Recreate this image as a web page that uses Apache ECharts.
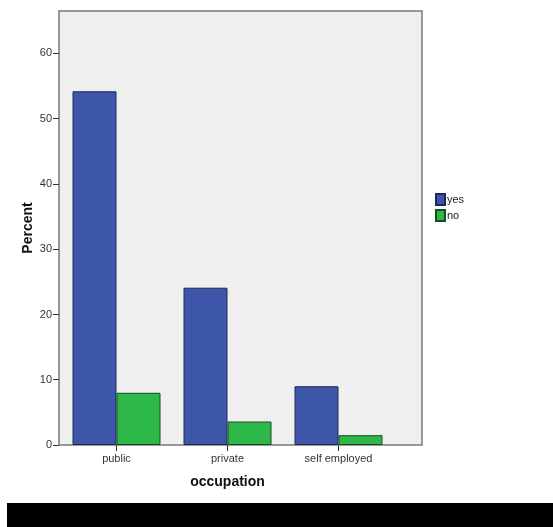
<!DOCTYPE html>
<html>
<head>
<meta charset="utf-8">
<script src="https://cdn.jsdelivr.net/npm/echarts@6/dist/echarts.min.js"></script>
<style>
html,body{margin:0;padding:0;background:#fff;}
#chart{width:553px;height:527px;}
</style>
</head>
<body>
<div id="chart"></div>
<script>
var categories = ['public', 'private', 'self employed'];
var yesValues = [54.2, 24.1, 9.0];
var noValues = [8.0, 3.6, 1.5];
var yTicks = [0, 10, 20, 30, 40, 50, 60];

var chart = echarts.init(document.getElementById('chart'), null, {renderer: 'canvas'});
var font = 'Liberation Sans, Arial, sans-serif';
chart.setOption({
  animation: false,
  backgroundColor: '#ffffff',
  graphic: [{
    type: 'rect',
    shape: {x: 7, y: 503, width: 546, height: 24},
    style: {fill: '#000000'},
    silent: true
  }],
  legend: {
    orient: 'vertical',
    left: 435,
    top: 193,
    padding: 0,
    itemWidth: 9,
    itemHeight: 11,
    itemGap: 3,
    icon: 'rect',
    textStyle: {fontFamily: font, fontSize: 11, color: '#222', padding: [0, 0, 0, -3]},
    data: ['yes', 'no']
  },
  grid: [
    {left: 59, top: 11, width: 363, height: 434, show: true, backgroundColor: '#efefef', borderColor: '#7a7a7a', borderWidth: 1.5, containLabel: false},
    {left: 61, top: 11, width: 333, height: 434, containLabel: false}
  ],
  xAxis: [
    {gridIndex: 0, type: 'value', show: false, min: 0, max: 1},
    {
      gridIndex: 1, type: 'category', data: categories,
      axisLine: {show: false},
      axisTick: {show: true, alignWithLabel: true, length: 6, lineStyle: {color: '#333', width: 1}},
      axisLabel: {fontFamily: font, fontSize: 11, color: '#333', margin: 8},
      name: 'occupation', nameLocation: 'middle', nameGap: 30,
      nameTextStyle: {fontFamily: font, fontSize: 14, fontWeight: 'bold', color: '#111'}
    }
  ],
  yAxis: [
    {gridIndex: 0, type: 'value', show: false, min: 0, max: 1},
    {
      gridIndex: 1, type: 'value', min: 0, max: 66.5, interval: 10, offset: 2,
      axisLine: {show: false},
      axisTick: {show: true, length: 6, lineStyle: {color: '#333', width: 1}},
      splitLine: {show: false},
      axisLabel: {fontFamily: font, fontSize: 11, color: '#333', margin: 7, showMaxLabel: false,
        formatter: function (v) { return yTicks.indexOf(v) >= 0 ? String(v) : ''; }},
      name: 'Percent', nameLocation: 'middle', nameGap: 24, nameRotate: 90, nameMoveOverlap: false,
      nameTextStyle: {fontFamily: font, fontSize: 14, fontWeight: 'bold', color: '#111'}
    }
  ],
  series: [
    {
      name: 'yes', type: 'bar', xAxisIndex: 1, yAxisIndex: 1, data: yesValues,
      barWidth: 44, barGap: '0%',
      itemStyle: {color: '#3d56a9', borderColor: '#1e2a55', borderWidth: 1}
    },
    {
      name: 'no', type: 'bar', xAxisIndex: 1, yAxisIndex: 1, data: noValues,
      barWidth: 44, barGap: '0%',
      itemStyle: {color: '#2eb84a', borderColor: '#1a4a24', borderWidth: 1}
    }
  ]
});
</script>
</body>
</html>
